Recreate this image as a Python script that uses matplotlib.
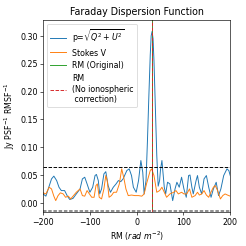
import matplotlib
matplotlib.use('Agg')
import matplotlib.pyplot as plt
import numpy as np

# Faraday depth samples (rad m^-2) and amplitudes
rm_p = [-200, -194, -189, -182, -177, -171, -166, -161, -154, -148, -143, -136, -129,
        -121, -116, -111, -106, -100, -94, -89, -86, -82, -79, -75, -70, -66, -61, -56,
        -50, -44, -39, -34, -29, -21, -16, -11, -7, -1, 4, 9, 13, 16, 20, 23, 26, 29,
        31, 33, 35, 37, 40, 43, 46, 49, 51, 54, 59, 62, 66, 71, 77, 82, 86, 91, 96, 101,
        106, 111, 114, 118, 121, 127, 130, 134, 139, 144, 149, 154, 159, 164, 170, 175,
        180, 186, 193, 197, 200]
p_amp = [0.016, 0.012, 0.025, 0.043, 0.048, 0.040, 0.028, 0.022, 0.022, 0.012, 0.006,
         0.008, 0.016, 0.025, 0.043, 0.046, 0.034, 0.019, 0.028, 0.049, 0.051, 0.040,
         0.016, 0.025, 0.052, 0.056, 0.031, 0.019, 0.028, 0.034, 0.040, 0.038, 0.043,
         0.058, 0.061, 0.049, 0.028, 0.019, 0.040, 0.076, 0.055, 0.016, 0.040, 0.110,
         0.190, 0.265, 0.300, 0.308, 0.295, 0.255, 0.170, 0.085, 0.030, 0.040, 0.060,
         0.076, 0.028, 0.016, 0.037, 0.034, 0.004, 0.025, 0.037, 0.028, 0.046, 0.025,
         0.010, 0.049, 0.050, 0.028, 0.016, 0.040, 0.049, 0.028, 0.016, 0.043, 0.049,
         0.028, 0.010, 0.025, 0.037, 0.013, 0.025, 0.049, 0.061, 0.058, 0.049]

rm_v = [-200, -194, -187, -182, -177, -173, -168, -163, -157, -152, -146, -141, -136,
        -129, -121, -116, -111, -106, -101, -96, -91, -87, -84, -80, -75, -70, -66, -63,
        -59, -54, -49, -43, -37, -32, -27, -23, -18, -11, -4, 4, 11, 16, 21, 29, 32, 37,
        43, 49, 54, 59, 64, 71, 79, 84, 89, 96, 101, 107, 113, 118, 125, 130, 134, 139,
        144, 149, 154, 157, 164, 168, 173, 179, 184, 189, 194, 200]
v_amp = [0.018, 0.016, 0.028, 0.025, 0.012, 0.004, 0.013, 0.018, 0.016, 0.010, 0.012,
         0.007, 0.012, 0.019, 0.025, 0.013, 0.012, 0.022, 0.016, 0.010, 0.010, 0.031,
         0.034, 0.010, 0.007, 0.025, 0.049, 0.040, 0.010, 0.013, 0.019, 0.019, 0.034,
         0.061, 0.043, 0.025, 0.013, 0.014, 0.013, 0.013, 0.012, 0.016, 0.034, 0.058,
         0.061, 0.049, 0.019, 0.022, 0.028, 0.019, 0.010, 0.016, 0.019, 0.022, 0.016,
         0.019, 0.016, 0.016, 0.025, 0.010, 0.013, 0.019, 0.014, 0.016, 0.022, 0.014,
         0.010, 0.016, 0.028, 0.031, 0.022, 0.007, 0.013, 0.016, 0.014, 0.012]

rm_orig = 33.5
rm_noion = 33.5
threshold = 0.064
noise_floor = -0.0145

fig = plt.figure(figsize=(4.32, 4.32), dpi=57)
ax = fig.add_axes([0.175, 0.138, 0.76, 0.781])

ax.plot(rm_p, p_amp, color='tab:blue', lw=1.2, label=r'p=$\sqrt{Q^2+U^2}$')
ax.plot(rm_v, v_amp, color='tab:orange', lw=1.2, label='Stokes V')
ax.axvline(rm_orig, color='tab:green', lw=1.2, label='RM (Original)')
ax.axvline(rm_noion, color='tab:red', ls='--', lw=1.2, label='RM\n(No ionospheric\n correction)')
ax.axhline(threshold, color='k', ls='--', lw=1.2)
ax.axhline(noise_floor, color='grey', ls=(0, (2, 1)), lw=2.2)

ax.set_xlim(-200, 200)
ax.set_ylim(-0.0165, 0.329)
ax.set_title('Faraday Dispersion Function')
ax.set_xlabel(r'RM ($rad\ m^{-2}$)')
ax.set_ylabel(r'Jy PSF$^{-1}$ RMSF$^{-1}$')
ax.legend(loc='upper left')

fig.savefig('out.png', dpi=57)
